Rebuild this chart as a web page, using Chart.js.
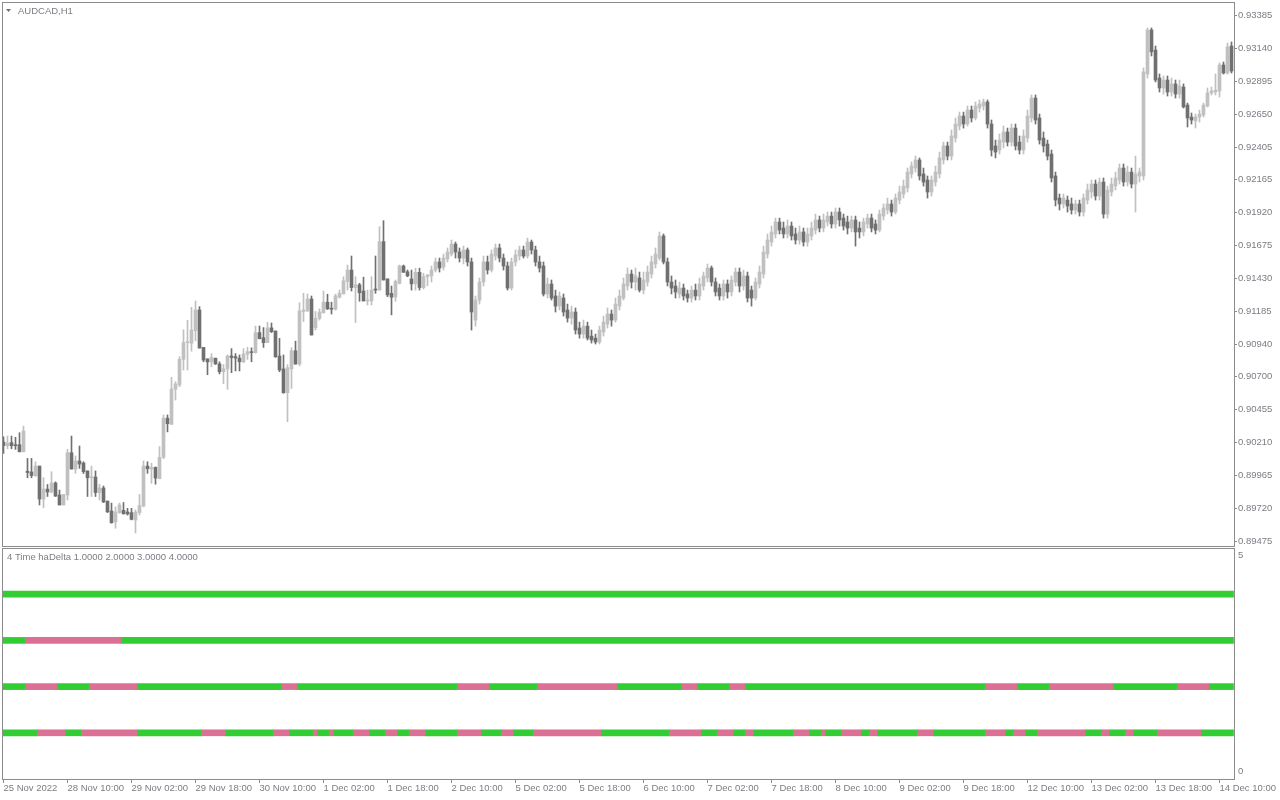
<!DOCTYPE html>
<html>
<head>
<meta charset="utf-8">
<title>AUDCAD,H1</title>
<script src="https://cdn.jsdelivr.net/npm/chart.js@4.4.1/dist/chart.umd.min.js"></script>
<style>
  html, body { margin: 0; padding: 0; background: #ffffff; }
  #wrap { position: relative; width: 1280px; height: 800px; overflow: hidden; }
  canvas { position: absolute; left: 0; }
  #priceCanvas { top: 0; }
  #deltaCanvas { top: 548px; }
</style>
</head>
<body>
<div id="wrap">
  <canvas id="priceCanvas" width="1280" height="548"></canvas>
  <canvas id="deltaCanvas" width="1280" height="252"></canvas>
</div>
<script>
// AUDCAD H1 candles, one entry per hourly bar, left to right
const candleOpen = [
  0.90216, 0.90188, 0.90211, 0.90196, 0.90196, 0.90143, 0.89999, 0.89993, 0.89965, 0.90037,
  0.89792, 0.89866, 0.89844, 0.89911, 0.89822, 0.89748, 0.89822, 0.90136, 0.90015, 0.90075,
  0.90060, 0.90001, 0.89950, 0.89956, 0.89840, 0.89874, 0.89777, 0.89703, 0.89622, 0.89691,
  0.89708, 0.89696, 0.89691, 0.89636, 0.89691, 0.89740, 0.90037, 0.90015, 0.90027, 0.89943,
  0.90102, 0.90393, 0.90347, 0.90608, 0.90640, 0.90830, 0.90954, 0.90950, 0.91043, 0.91197,
  0.90919, 0.90834, 0.90811, 0.90839, 0.90796, 0.90738, 0.90759, 0.90855, 0.90850, 0.90839,
  0.90812, 0.90868, 0.90887, 0.90880, 0.91029, 0.90991, 0.90954, 0.91064, 0.91041, 0.90855,
  0.90759, 0.90582, 0.90759, 0.90894, 0.90795, 0.91186, 0.91190, 0.91279, 0.91066, 0.91135,
  0.91177, 0.91255, 0.91207, 0.91202, 0.91292, 0.91316, 0.91409, 0.91494, 0.91364, 0.91384,
  0.91338, 0.91264, 0.91264, 0.91353, 0.91345, 0.91705, 0.91428, 0.91321, 0.91294, 0.91395,
  0.91524, 0.91481, 0.91428, 0.91391, 0.91477, 0.91364, 0.91444, 0.91450, 0.91494, 0.91554,
  0.91516, 0.91576, 0.91613, 0.91687, 0.91628, 0.91583, 0.91643, 0.91554, 0.91122, 0.91271,
  0.91405, 0.91554, 0.91494, 0.91598, 0.91658, 0.91583, 0.91524, 0.91360, 0.91554, 0.91598,
  0.91643, 0.91598, 0.91702, 0.91643, 0.91554, 0.91524, 0.91316, 0.91390, 0.91301, 0.91226,
  0.91286, 0.91197, 0.91137, 0.91182, 0.91063, 0.91018, 0.91077, 0.91003, 0.90988, 0.90959,
  0.91033, 0.91092, 0.91167, 0.91122, 0.91226, 0.91286, 0.91375, 0.91464, 0.91405, 0.91435,
  0.91345, 0.91405, 0.91464, 0.91539, 0.91583, 0.91747, 0.91554, 0.91405, 0.91375, 0.91316,
  0.91360, 0.91316, 0.91286, 0.91345, 0.91301, 0.91375, 0.91435, 0.91509, 0.91405, 0.91360,
  0.91301, 0.91390, 0.91331, 0.91405, 0.91479, 0.91375, 0.91450, 0.91345, 0.91286, 0.91390,
  0.91464, 0.91613, 0.91702, 0.91762, 0.91851, 0.91806, 0.91762, 0.91821, 0.91762, 0.91717,
  0.91777, 0.91702, 0.91747, 0.91791, 0.91866, 0.91806, 0.91851, 0.91895, 0.91836, 0.91925,
  0.91880, 0.91851, 0.91806, 0.91866, 0.91806, 0.91777, 0.91836, 0.91880, 0.91836, 0.91791,
  0.91895, 0.91940, 0.91985, 0.91925, 0.92014, 0.92059, 0.92104, 0.92208, 0.92252, 0.92312,
  0.92208, 0.92163, 0.92074, 0.92148, 0.92208, 0.92312, 0.92416, 0.92341, 0.92475, 0.92564,
  0.92639, 0.92579, 0.92683, 0.92624, 0.92698, 0.92713, 0.92743, 0.92579, 0.92416, 0.92386,
  0.92445, 0.92520, 0.92445, 0.92549, 0.92445, 0.92386, 0.92475, 0.92624, 0.92772, 0.92624,
  0.92475, 0.92430, 0.92356, 0.92193, 0.92029, 0.91985, 0.92014, 0.91985, 0.91940, 0.91985,
  0.91925, 0.92014, 0.92074, 0.92133, 0.92044, 0.92148, 0.91910, 0.92074, 0.92118, 0.92163,
  0.92252, 0.92148, 0.92222, 0.92133, 0.92193, 0.92193, 0.92951, 0.93278, 0.93129, 0.92921,
  0.92847, 0.92906, 0.92817, 0.92877, 0.92802, 0.92854, 0.92720, 0.92631, 0.92602, 0.92631,
  0.92646, 0.92713, 0.92810, 0.92817, 0.92825, 0.93018, 0.92958, 0.93159
];
const candleHigh = [
  0.90255, 0.90260, 0.90260, 0.90251, 0.90285, 0.90334, 0.90094, 0.90094, 0.90069, 0.90037,
  0.89950, 0.89900, 0.89995, 0.89920, 0.89859, 0.89826, 0.90162, 0.90260, 0.90112, 0.90186,
  0.90069, 0.90001, 0.90037, 0.90001, 0.89902, 0.89889, 0.89777, 0.89762, 0.89734, 0.89762,
  0.89766, 0.89723, 0.89723, 0.89711, 0.89826, 0.90075, 0.90069, 0.90058, 0.90031, 0.90182,
  0.90417, 0.90417, 0.90696, 0.90664, 0.90850, 0.91050, 0.91120, 0.91217, 0.91264, 0.91222,
  0.90919, 0.90834, 0.90873, 0.90839, 0.90812, 0.90792, 0.90863, 0.90910, 0.90873, 0.90863,
  0.90910, 0.90920, 0.90916, 0.91078, 0.91078, 0.91066, 0.91106, 0.91100, 0.91041, 0.90986,
  0.90863, 0.90791, 0.90916, 0.90965, 0.91251, 0.91321, 0.91316, 0.91301, 0.91186, 0.91205,
  0.91338, 0.91314, 0.91255, 0.91314, 0.91345, 0.91444, 0.91531, 0.91598, 0.91444, 0.91395,
  0.91441, 0.91345, 0.91444, 0.91598, 0.91816, 0.91861, 0.91428, 0.91375, 0.91420, 0.91531,
  0.91531, 0.91494, 0.91494, 0.91508, 0.91508, 0.91470, 0.91462, 0.91524, 0.91583, 0.91583,
  0.91613, 0.91658, 0.91717, 0.91702, 0.91658, 0.91672, 0.91658, 0.91583, 0.91301, 0.91435,
  0.91598, 0.91598, 0.91643, 0.91687, 0.91687, 0.91613, 0.91554, 0.91583, 0.91643, 0.91672,
  0.91672, 0.91732, 0.91717, 0.91672, 0.91598, 0.91554, 0.91435, 0.91420, 0.91345, 0.91331,
  0.91316, 0.91241, 0.91226, 0.91212, 0.91107, 0.91122, 0.91107, 0.91048, 0.91018, 0.91077,
  0.91152, 0.91212, 0.91197, 0.91286, 0.91345, 0.91435, 0.91509, 0.91494, 0.91509, 0.91479,
  0.91479, 0.91524, 0.91598, 0.91658, 0.91777, 0.91762, 0.91583, 0.91450, 0.91420, 0.91405,
  0.91390, 0.91345, 0.91375, 0.91390, 0.91435, 0.91479, 0.91539, 0.91524, 0.91435, 0.91390,
  0.91420, 0.91420, 0.91450, 0.91509, 0.91509, 0.91494, 0.91479, 0.91375, 0.91435, 0.91524,
  0.91672, 0.91762, 0.91821, 0.91880, 0.91880, 0.91851, 0.91866, 0.91851, 0.91806, 0.91821,
  0.91806, 0.91806, 0.91851, 0.91910, 0.91895, 0.91910, 0.91925, 0.91925, 0.91955, 0.91955,
  0.91910, 0.91895, 0.91895, 0.91895, 0.91851, 0.91880, 0.91910, 0.91910, 0.91866, 0.91940,
  0.91985, 0.92029, 0.92014, 0.92059, 0.92118, 0.92163, 0.92252, 0.92297, 0.92341, 0.92327,
  0.92252, 0.92193, 0.92193, 0.92267, 0.92371, 0.92445, 0.92445, 0.92535, 0.92624, 0.92668,
  0.92668, 0.92713, 0.92713, 0.92743, 0.92758, 0.92765, 0.92758, 0.92609, 0.92460, 0.92505,
  0.92564, 0.92549, 0.92579, 0.92579, 0.92490, 0.92535, 0.92683, 0.92795, 0.92795, 0.92653,
  0.92520, 0.92460, 0.92386, 0.92222, 0.92059, 0.92059, 0.92044, 0.92029, 0.92014, 0.92014,
  0.92059, 0.92133, 0.92163, 0.92163, 0.92178, 0.92178, 0.92118, 0.92178, 0.92222, 0.92282,
  0.92282, 0.92267, 0.92252, 0.92341, 0.92252, 0.92996, 0.93293, 0.93293, 0.93159, 0.92951,
  0.92936, 0.92936, 0.92921, 0.92906, 0.92906, 0.92877, 0.92735, 0.92661, 0.92653, 0.92683,
  0.92735, 0.92847, 0.92854, 0.92951, 0.93033, 0.93040, 0.93181, 0.93189
];
const candleLow = [
  0.90131, 0.90166, 0.90166, 0.90161, 0.90143, 0.90143, 0.89950, 0.89950, 0.89960, 0.89748,
  0.89728, 0.89811, 0.89837, 0.89811, 0.89748, 0.89748, 0.89785, 0.90015, 0.89983, 0.90020,
  0.89982, 0.89811, 0.89811, 0.89811, 0.89785, 0.89766, 0.89691, 0.89612, 0.89575, 0.89686,
  0.89679, 0.89673, 0.89637, 0.89540, 0.89673, 0.89734, 0.89983, 0.89909, 0.89902, 0.89943,
  0.90092, 0.90291, 0.90347, 0.90528, 0.90627, 0.90751, 0.90751, 0.90891, 0.90969, 0.90914,
  0.90812, 0.90716, 0.90774, 0.90792, 0.90722, 0.90650, 0.90608, 0.90731, 0.90744, 0.90744,
  0.90805, 0.90830, 0.90812, 0.90876, 0.90983, 0.90919, 0.90954, 0.91029, 0.90844, 0.90738,
  0.90578, 0.90367, 0.90614, 0.90795, 0.90782, 0.91111, 0.91186, 0.91011, 0.91048, 0.91122,
  0.91173, 0.91201, 0.91167, 0.91197, 0.91286, 0.91316, 0.91345, 0.91338, 0.91104, 0.91262,
  0.91264, 0.91234, 0.91234, 0.91321, 0.91345, 0.91420, 0.91296, 0.91161, 0.91262, 0.91391,
  0.91477, 0.91444, 0.91345, 0.91345, 0.91345, 0.91353, 0.91378, 0.91405, 0.91479, 0.91479,
  0.91494, 0.91554, 0.91598, 0.91583, 0.91554, 0.91539, 0.91524, 0.91048, 0.91077, 0.91241,
  0.91375, 0.91464, 0.91479, 0.91568, 0.91554, 0.91494, 0.91345, 0.91345, 0.91524, 0.91568,
  0.91583, 0.91583, 0.91613, 0.91524, 0.91479, 0.91301, 0.91286, 0.91271, 0.91182, 0.91197,
  0.91152, 0.91107, 0.91092, 0.91018, 0.90988, 0.90988, 0.90974, 0.90951, 0.90944, 0.90944,
  0.91003, 0.91063, 0.91077, 0.91107, 0.91197, 0.91271, 0.91345, 0.91360, 0.91345, 0.91331,
  0.91316, 0.91375, 0.91435, 0.91509, 0.91568, 0.91539, 0.91375, 0.91316, 0.91286, 0.91286,
  0.91271, 0.91256, 0.91256, 0.91271, 0.91271, 0.91345, 0.91405, 0.91375, 0.91301, 0.91271,
  0.91271, 0.91286, 0.91301, 0.91375, 0.91331, 0.91345, 0.91256, 0.91226, 0.91271, 0.91360,
  0.91435, 0.91583, 0.91672, 0.91732, 0.91762, 0.91732, 0.91732, 0.91717, 0.91687, 0.91687,
  0.91672, 0.91672, 0.91717, 0.91762, 0.91777, 0.91777, 0.91821, 0.91806, 0.91806, 0.91821,
  0.91791, 0.91762, 0.91777, 0.91672, 0.91732, 0.91747, 0.91806, 0.91777, 0.91762, 0.91777,
  0.91866, 0.91910, 0.91895, 0.91910, 0.91985, 0.92029, 0.92074, 0.92178, 0.92222, 0.92163,
  0.92118, 0.92029, 0.92044, 0.92118, 0.92178, 0.92282, 0.92312, 0.92312, 0.92445, 0.92535,
  0.92549, 0.92564, 0.92594, 0.92609, 0.92668, 0.92683, 0.92549, 0.92341, 0.92327, 0.92356,
  0.92401, 0.92416, 0.92416, 0.92386, 0.92356, 0.92356, 0.92445, 0.92594, 0.92579, 0.92430,
  0.92371, 0.92312, 0.92148, 0.91970, 0.91940, 0.91955, 0.91925, 0.91910, 0.91910, 0.91895,
  0.91895, 0.91985, 0.92029, 0.92014, 0.92014, 0.91880, 0.91880, 0.92044, 0.92089, 0.92133,
  0.92118, 0.92118, 0.92104, 0.91925, 0.92148, 0.92163, 0.92921, 0.93085, 0.92892, 0.92817,
  0.92802, 0.92787, 0.92787, 0.92772, 0.92772, 0.92698, 0.92557, 0.92579, 0.92549, 0.92594,
  0.92631, 0.92706, 0.92795, 0.92795, 0.92780, 0.92951, 0.92951, 0.92958
];
const candleClose = [
  0.90189, 0.90208, 0.90188, 0.90188, 0.90143, 0.90297, 0.89989, 0.89967, 0.90037, 0.89792,
  0.89866, 0.89844, 0.89911, 0.89814, 0.89748, 0.89826, 0.90136, 0.90015, 0.90075, 0.90052,
  0.89995, 0.89950, 0.89955, 0.89840, 0.89874, 0.89770, 0.89697, 0.89616, 0.89696, 0.89748,
  0.89683, 0.89681, 0.89641, 0.89696, 0.89744, 0.90037, 0.90017, 0.90027, 0.89948, 0.90102,
  0.90393, 0.90352, 0.90610, 0.90648, 0.90830, 0.90954, 0.90960, 0.91048, 0.91197, 0.90914,
  0.90825, 0.90811, 0.90844, 0.90796, 0.90738, 0.90759, 0.90855, 0.90844, 0.90840, 0.90812,
  0.90870, 0.90887, 0.90880, 0.91029, 0.90983, 0.90954, 0.91064, 0.91036, 0.90850, 0.90751,
  0.90582, 0.90768, 0.90894, 0.90795, 0.91190, 0.91197, 0.91279, 0.91011, 0.91135, 0.91182,
  0.91255, 0.91205, 0.91203, 0.91302, 0.91322, 0.91414, 0.91494, 0.91364, 0.91384, 0.91325,
  0.91264, 0.91270, 0.91345, 0.91345, 0.91705, 0.91420, 0.91309, 0.91292, 0.91409, 0.91524,
  0.91477, 0.91450, 0.91391, 0.91477, 0.91364, 0.91444, 0.91457, 0.91494, 0.91554, 0.91509,
  0.91583, 0.91628, 0.91687, 0.91628, 0.91583, 0.91643, 0.91554, 0.91182, 0.91271, 0.91405,
  0.91554, 0.91494, 0.91613, 0.91658, 0.91583, 0.91524, 0.91360, 0.91554, 0.91606, 0.91643,
  0.91598, 0.91702, 0.91643, 0.91554, 0.91509, 0.91316, 0.91390, 0.91286, 0.91226, 0.91301,
  0.91182, 0.91137, 0.91182, 0.91048, 0.91018, 0.91077, 0.90988, 0.90974, 0.90959, 0.91048,
  0.91107, 0.91167, 0.91122, 0.91241, 0.91301, 0.91390, 0.91464, 0.91405, 0.91450, 0.91345,
  0.91420, 0.91479, 0.91554, 0.91613, 0.91747, 0.91554, 0.91405, 0.91360, 0.91331, 0.91360,
  0.91301, 0.91286, 0.91345, 0.91301, 0.91390, 0.91450, 0.91509, 0.91405, 0.91331, 0.91301,
  0.91390, 0.91331, 0.91420, 0.91479, 0.91375, 0.91450, 0.91286, 0.91286, 0.91405, 0.91479,
  0.91628, 0.91717, 0.91777, 0.91851, 0.91791, 0.91762, 0.91821, 0.91747, 0.91717, 0.91777,
  0.91702, 0.91762, 0.91806, 0.91866, 0.91806, 0.91866, 0.91895, 0.91836, 0.91925, 0.91866,
  0.91821, 0.91806, 0.91866, 0.91777, 0.91777, 0.91851, 0.91880, 0.91806, 0.91791, 0.91910,
  0.91955, 0.91985, 0.91925, 0.92029, 0.92074, 0.92118, 0.92222, 0.92267, 0.92312, 0.92193,
  0.92148, 0.92074, 0.92163, 0.92222, 0.92327, 0.92416, 0.92341, 0.92490, 0.92579, 0.92639,
  0.92579, 0.92683, 0.92624, 0.92713, 0.92728, 0.92743, 0.92579, 0.92386, 0.92371, 0.92460,
  0.92520, 0.92445, 0.92549, 0.92416, 0.92386, 0.92490, 0.92639, 0.92772, 0.92609, 0.92460,
  0.92416, 0.92341, 0.92178, 0.92014, 0.91985, 0.92029, 0.91970, 0.91940, 0.91985, 0.91925,
  0.92029, 0.92089, 0.92133, 0.92044, 0.92148, 0.91910, 0.92089, 0.92133, 0.92178, 0.92252,
  0.92148, 0.92222, 0.92133, 0.92208, 0.92222, 0.92966, 0.93278, 0.93115, 0.92906, 0.92847,
  0.92906, 0.92817, 0.92877, 0.92802, 0.92862, 0.92706, 0.92624, 0.92609, 0.92631, 0.92653,
  0.92720, 0.92810, 0.92825, 0.92832, 0.93018, 0.92958, 0.93152, 0.92973
];

const priceTicks = [
  0.93385, 0.93140, 0.92895, 0.92650, 0.92405, 0.92165, 0.91920, 0.91675, 0.91430,
  0.91185, 0.90940, 0.90700, 0.90455, 0.90210, 0.89965, 0.89720, 0.89475
];

const timeTickBars = [0, 16, 32, 48, 64, 80, 96, 112, 128, 144, 160, 176, 192, 208, 224, 240, 256, 272, 288, 304];
const timeTickLabels = [
  '25 Nov 2022', '28 Nov 10:00', '29 Nov 02:00', '29 Nov 18:00', '30 Nov 10:00',
  '1 Dec 02:00', '1 Dec 18:00', '2 Dec 10:00', '5 Dec 02:00', '5 Dec 18:00',
  '6 Dec 10:00', '7 Dec 02:00', '7 Dec 18:00', '8 Dec 10:00', '9 Dec 02:00',
  '9 Dec 18:00', '12 Dec 10:00', '13 Dec 02:00', '13 Dec 18:00', '14 Dec 10:00'
];

// haDelta rows as run lengths in bars, alternating green / pink, starting green
const deltaRow4 = [308];
const deltaRow3 = [6, 24, 278];
const deltaRow2 = [6, 8, 8, 12, 36, 4, 40, 8, 12, 20, 16, 4, 8, 4, 60, 8, 8, 16, 16, 8, 6];
const deltaRow1 = [
  9, 7, 4, 14, 16, 6, 12, 4, 6, 1, 3, 1, 5, 4, 4, 3, 3, 4, 8, 6, 5, 3, 5, 17, 17, 8,
  4, 4, 3, 2, 10, 4, 3, 1, 4, 5, 2, 2, 10, 4, 13, 5, 2, 3, 3, 12, 4, 2, 4, 2, 6, 11, 8
];
const deltaScaleLabels = [0, 5];

const BULL = '#c0c0c0';
const BEAR = '#707070';
const GREEN = '#32cd32';
const PINK = '#db7093';
const FRAME = '#8c8c8c';
const TEXT = '#7c7c84';
const FONT_PX = 9.5;
const FONT_FAMILY = '"Liberation Sans", Arial, sans-serif';
const BAR_MIN = -0.375;
const BAR_MAX = 307.625;
const LABEL_INSET = 0.16;

// frame around each pane + its caption
const paneFrame = {
  id: 'paneFrame',
  afterDraw(chart, args, opts) {
    const { ctx, chartArea: a } = chart;
    ctx.save();
    ctx.strokeStyle = FRAME;
    ctx.lineWidth = 1;
    ctx.strokeRect(Math.round(a.left) + 0.5, Math.round(a.top) + 0.5,
      Math.round(a.right - a.left), Math.round(a.bottom - a.top));
    ctx.fillStyle = TEXT;
    ctx.font = FONT_PX + 'px ' + FONT_FAMILY;
    ctx.textBaseline = 'middle';
    if (opts.marker) {
      ctx.beginPath();
      ctx.moveTo(6, 9); ctx.lineTo(11, 9); ctx.lineTo(8.5, 12);
      ctx.closePath();
      ctx.fillStyle = '#6e6e6e';
      ctx.fill();
      ctx.fillStyle = TEXT;
    }
    if (opts.caption) ctx.fillText(opts.caption, opts.x, opts.y);
    ctx.restore();
  }
};

function fixWidth(scale) {
  scale.width = 46;
  scale.paddingTop = 0;
  scale.paddingBottom = 0;
}

// ---- price pane ----
const candles = candleOpen.map((o, i) => ({ i, o, h: candleHigh[i], l: candleLow[i], c: candleClose[i] }));
const candleColors = candles.map(k => (k.c >= k.o ? BULL : BEAR));

new Chart(document.getElementById('priceCanvas'), {
  type: 'bar',
  data: {
    datasets: [
      {
        label: 'wick',
        data: candles.map(k => ({ x: k.i, y: [k.l, k.h] })),
        backgroundColor: candleColors,
        barThickness: 1,
        grouped: false
      },
      {
        label: 'body',
        data: candles.map(k => ({ x: k.i, y: [k.o, k.c] })),
        backgroundColor: candleColors,
        barThickness: 3,
        minBarLength: 1,
        grouped: false
      }
    ]
  },
  options: {
    responsive: false,
    animation: false,
    devicePixelRatio: 1,
    events: [],
    layout: { padding: { left: 2, top: 2, right: 0, bottom: 2 } },
    plugins: {
      legend: { display: false },
      tooltip: { enabled: false },
      paneFrame: { caption: 'AUDCAD,H1', x: 18, y: 11, marker: true }
    },
    scales: {
      x: {
        type: 'linear', min: BAR_MIN, max: BAR_MAX, offset: false, display: false,
        grid: { offset: false }
      },
      y: {
        type: 'linear', position: 'right', min: 0.89443, max: 0.93486, bounds: 'data',
        afterBuildTicks: s => { s.ticks = priceTicks.map(v => ({ value: v })); },
        afterFit: fixWidth,
        ticks: {
          color: TEXT, padding: 1,
          font: { family: FONT_FAMILY, size: FONT_PX },
          callback: v => v.toFixed(5)
        },
        grid: { drawOnChartArea: false, drawTicks: true, tickLength: 3, color: FRAME },
        border: { display: false }
      }
    }
  },
  plugins: [paneFrame]
});

// ---- haDelta pane ----
function runsToBars(runs, level) {
  const bars = [];
  const colors = [];
  let start = 0;
  runs.forEach((len, k) => {
    bars.push({ x: [start - 0.5, start + len - 0.5], y: level });
    colors.push(k % 2 === 0 ? GREEN : PINK);
    start += len;
  });
  return { bars, colors };
}

const deltaRows = [deltaRow1, deltaRow2, deltaRow3, deltaRow4];
const deltaDatasets = deltaRows.map((runs, idx) => {
  const r = runsToBars(runs, idx + 1);
  return {
    label: 'haDelta ' + (idx + 1),
    data: r.bars,
    backgroundColor: r.colors,
    barThickness: 6,
    grouped: false
  };
});

new Chart(document.getElementById('deltaCanvas'), {
  type: 'bar',
  data: { datasets: deltaDatasets },
  options: {
    indexAxis: 'y',
    responsive: false,
    animation: false,
    devicePixelRatio: 1,
    events: [],
    layout: { padding: { left: 2, top: 0, right: 0, bottom: 0 } },
    plugins: {
      legend: { display: false },
      tooltip: { enabled: false },
      paneFrame: { caption: '4 Time haDelta 1.0000 2.0000 3.0000 4.0000', x: 7, y: 9 }
    },
    scales: {
      x: {
        type: 'linear', position: 'bottom', min: BAR_MIN, max: BAR_MAX, bounds: 'data', offset: false,
        afterBuildTicks: s => { s.ticks = timeTickBars.map(v => ({ value: v })); },
        afterFit: s => { s.height = 21; s.paddingLeft = 0; s.paddingRight = 0; },
        ticks: {
          color: TEXT, padding: 0, autoSkip: false, maxRotation: 0, align: 'start',
          font: { family: FONT_FAMILY, size: FONT_PX },
          callback: (v, i) => timeTickLabels[i]
        },
        grid: { drawOnChartArea: false, drawTicks: true, tickLength: 4, color: FRAME, offset: false },
        border: { display: false }
      },
      y: {
        type: 'linear', position: 'right', min: 0, max: 5, bounds: 'data', offset: false,
        afterBuildTicks: s => {
          s.ticks = deltaScaleLabels.map(v => ({ value: v === 0 ? v + LABEL_INSET : v - LABEL_INSET }));
        },
        afterFit: fixWidth,
        ticks: {
          color: TEXT, padding: 1,
          font: { family: FONT_FAMILY, size: FONT_PX },
          callback: (v, i) => String(deltaScaleLabels[i])
        },
        grid: { display: false, drawTicks: true, tickLength: 3, offset: false },
        border: { display: false }
      }
    }
  },
  plugins: [paneFrame]
});
</script>
</body>
</html>
